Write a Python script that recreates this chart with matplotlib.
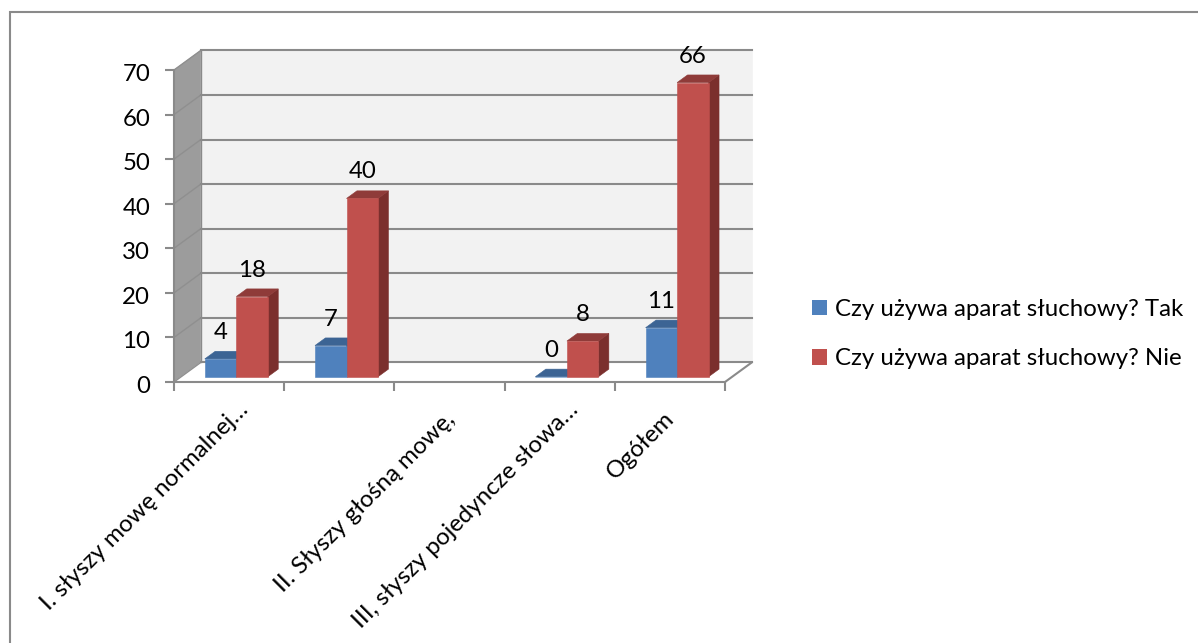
import matplotlib
matplotlib.use("Agg")
import matplotlib.pyplot as plt
from matplotlib.lines import Line2D
from matplotlib.patches import Patch
from matplotlib.transforms import ScaledTranslation

plt.rcParams['font.family'] = ['Lato', 'DejaVu Sans']

# five slots on the axis, the sheet leaves the third one without bars
slot_labels = ["I. słyszy mowę normalnej…", "", "II. Słyszy głośną mowę,",
               "III, słyszy pojedyncze słowa…", "Ogółem"]
tak = [4, 7, None, 0, 11]
nie = [18, 40, None, 8, 66]
series_names = ["Czy używa aparat słuchowy? Tak", "Czy używa aparat słuchowy? Nie"]
yticks = [0, 10, 20, 30, 40, 50, 60, 70]

W, H = 1198, 643
FS = 17.3

# oblique depth of the box, in data units (category widths / axis values)
DX = 26.7 / 110.2
DY = 19.5 / 4.457
GREY = "#8a8a8a"

fig = plt.figure(figsize=(W / 100, H / 100), dpi=100)
ax = fig.add_axes([174 / W, (H - 382) / H, 551 / W, 312 / H])
ax.set_xlim(0, 5)
ax.set_ylim(0, 70)
ax.set_facecolor("none")


def pt(x, y, d):
    return x + d * DX, y + d * DY


def quad(corners, color, z):
    xs = [c[0] for c in corners]
    ys = [c[1] for c in corners]
    ax.fill(xs, ys, facecolor=color, edgecolor=color, lw=0.4, zorder=z, clip_on=False)


def bar3d(x0, w, val, colors, z):
    front, side, top = colors
    d0, d1 = 0.27, 0.66
    quad([pt(x0 + w, 0, d0), pt(x0 + w, 0, d1), pt(x0 + w, val, d1), pt(x0 + w, val, d0)], side, z)
    quad([pt(x0, val, d0), pt(x0 + w, val, d0), pt(x0 + w, val, d1), pt(x0, val, d1)], top, z + 0.1)
    quad([pt(x0, 0, d0), pt(x0 + w, 0, d0), pt(x0 + w, val, d0), pt(x0, val, d0)], front, z + 0.2)


# walls and floor
quad([pt(0, 0, 1), pt(5, 0, 1), pt(5, 70, 1), pt(0, 70, 1)], "#f2f2f2", 1)
quad([pt(0, 0, 0), pt(0, 0, 1), pt(0, 70, 1), pt(0, 70, 0)], "#9c9c9c", 1)
quad([pt(0, 0, 0), pt(5, 0, 0), pt(5, 0, 1), pt(0, 0, 1)], "#ffffff", 1)

for v in yticks:
    a, b, c = pt(0, v, 0), pt(0, v, 1), pt(5, v, 1)
    ax.plot([a[0], b[0]], [a[1], b[1]], color="#8f8f8f", lw=1.0, zorder=2, clip_on=False)
    ax.plot([b[0], c[0]], [b[1], c[1]], color=GREY, lw=1.5, zorder=2, clip_on=False)
a, b = pt(5, 0, 0), pt(5, 0, 1)
ax.plot([a[0], b[0]], [a[1], b[1]], color=GREY, lw=1.5, zorder=2, clip_on=False)
a, b = pt(0, 0, 1), pt(0, 70, 1)
ax.plot([a[0], b[0]], [a[1], b[1]], color=GREY, lw=1.0, zorder=2, clip_on=False)

# bars, blue first so the red one covers its side
bar_w = 0.286
gap = 0.214
blue = ("#4f81bd", "#3a5f8b", "#3c6494")
red = ("#c0504d", "#7b2f2d", "#8f3b39")
for i in range(len(tak)):
    if tak[i] is None:
        continue
    x0 = i + gap
    bar3d(x0, bar_w, tak[i], blue, 3 + i)
    bar3d(x0 + bar_w, bar_w, nie[i], red, 3.5 + i)
    for xb, v in ((x0, tak[i]), (x0 + bar_w, nie[i])):
        lx, ly = pt(xb + bar_w / 2, v, 0.27)
        ax.annotate(str(v), (lx, ly), xytext=(0, 26.5), textcoords="offset pixels",
                    ha="center", va="center", fontsize=FS, color="black",
                    zorder=20, annotation_clip=False)

# axes lines and ticks
for s in ("top", "right"):
    ax.spines[s].set_visible(False)
for s in ("left", "bottom"):
    ax.spines[s].set_color(GREY)
    ax.spines[s].set_linewidth(1.5)
    ax.spines[s].set_zorder(10)
ax.set_yticks(yticks)
ax.set_xticks(range(6))
ax.set_xticklabels([])
ax.tick_params(axis="both", length=6.2, width=1.5, color=GREY)
ax.tick_params(axis="y", labelsize=FS, pad=11)
for lab in ax.get_yticklabels():
    lab.set_transform(lab.get_transform() + ScaledTranslation(0, -2.5 / 100, fig.dpi_scale_trans))

# rotated category names, cut-off ones sit closer to the axis
label_offsets = [(16, -24), (0, 0), (2, -34), (15, -24), (1, -33)]
for i, name in enumerate(slot_labels):
    ax.annotate(name, (i + 0.5, 0), xytext=label_offsets[i], textcoords="offset pixels",
                rotation=45, rotation_mode="anchor", ha="right", va="center",
                fontsize=FS, color="black", annotation_clip=False)

handles = [Patch(color=blue[0], lw=0), Patch(color=red[0], lw=0)]
fig.legend(handles, series_names, loc="upper left",
           bbox_to_anchor=(812 / W, 1 - 299 / H), bbox_transform=fig.transFigure,
           frameon=False, fontsize=FS, handlelength=0.62, handleheight=0.62,
           handletextpad=0.35, labelspacing=1.18, borderaxespad=0, borderpad=0)

# outer chart frame
fig.add_artist(Line2D([10 / W, 10 / W, 1], [0, 1 - 12 / H, 1 - 12 / H],
                      color=GREY, lw=1.5, solid_joinstyle="miter"))

fig.savefig("out.png", dpi=100)
